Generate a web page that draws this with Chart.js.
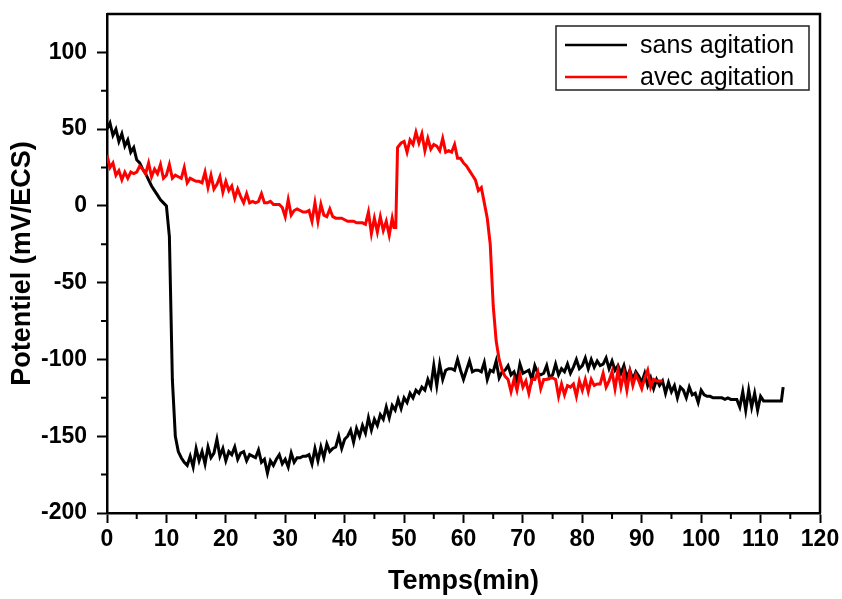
<!DOCTYPE html>
<html>
<head>
<meta charset="utf-8">
<script src="https://cdn.jsdelivr.net/npm/chart.js@4.4.1/dist/chart.umd.min.js"></script>
<style>
  html, body { margin: 0; padding: 0; background: #fff; }
  #chart { display: block; }
</style>
</head>
<body>
<canvas id="chart" width="842" height="599"></canvas>
<script>
// potential (mV/ECS) vs time (min)
const sansAgitation = [
  [0, 50], [0.5, 54], [1, 46], [1.5, 50], [2, 42], [2.5, 47], [3, 39], [3.5, 43], [4, 35], [4.5, 38],
  [5, 30], [5.5, 28], [6, 24], [6.5, 21], [7, 17], [7.5, 13], [8, 10], [8.5, 7], [9, 4], [9.5, 2],
  [10, 0], [10.5, -20], [11, -113], [11.5, -150], [12, -160], [12.5, -164], [13, -167], [13.5, -169],
  [14, -163], [14.5, -170], [15, -158], [15.5, -166], [16, -160], [16.5, -168], [17, -157], [17.5, -164],
  [18, -161], [18.5, -152], [19, -163], [19.5, -158], [20, -166], [20.5, -160], [21, -162], [21.5, -157],
  [22, -165], [22.5, -161], [23, -160], [23.5, -166], [24, -162], [24.5, -163], [25, -164], [25.5, -159],
  [26, -167], [26.5, -165], [27, -174], [27.5, -166], [28, -169], [28.5, -165], [29, -162], [29.5, -168],
  [30, -165], [30.5, -170], [31, -161], [31.5, -167], [32, -164], [32.5, -164], [33, -163], [33.5, -163],
  [34, -162], [34.5, -168], [35, -158], [35.5, -166], [36, -157], [36.5, -164], [37, -155], [37.5, -160],
  [38, -158], [38.5, -157], [39, -150], [39.5, -158], [40, -152], [40.5, -150], [41, -146], [41.5, -154],
  [42, -145], [42.5, -150], [43, -143], [43.5, -148], [44, -138], [44.5, -146], [45, -139], [45.5, -143],
  [46, -136], [46.5, -139], [47, -131], [47.5, -138], [48, -130], [48.5, -133], [49, -126], [49.5, -132],
  [50, -125], [50.5, -128], [51, -122], [51.5, -125], [52, -120], [52.5, -122], [53, -118], [53.5, -120],
  [54, -113], [54.5, -118], [55, -104], [55.5, -117], [56, -103], [56.5, -113], [57, -107], [57.5, -106],
  [58, -106], [58.5, -107], [59, -100], [59.5, -107], [60, -113], [60.5, -107], [61, -101], [61.5, -108],
  [62, -107], [62.5, -107], [63, -108], [63.5, -102], [64, -113], [64.5, -107], [65, -108], [65.5, -101],
  [66, -112], [66.5, -108], [67, -107], [67.5, -104], [68, -110], [68.5, -108], [69, -114], [69.5, -103],
  [70, -109], [70.5, -108], [71, -107], [71.5, -113], [72, -104], [72.5, -109], [73, -110], [73.5, -109],
  [74, -104], [74.5, -112], [75, -110], [75.5, -103], [76, -110], [76.5, -106], [77, -108], [77.5, -103],
  [78, -109], [78.5, -105], [79, -100], [79.5, -106], [80, -104], [80.5, -99], [81, -106], [81.5, -100],
  [82, -105], [82.5, -101], [83, -104], [83.5, -103], [84, -99], [84.5, -106], [85, -101], [85.5, -107],
  [86, -104], [86.5, -109], [87, -104], [87.5, -112], [88, -107], [88.5, -113], [89, -108], [89.5, -111],
  [90, -115], [90.5, -109], [91, -117], [91.5, -112], [92, -119], [92.5, -113], [93, -117], [93.5, -114],
  [94, -122], [94.5, -115], [95, -121], [95.5, -117], [96, -125], [96.5, -118], [97, -120], [97.5, -125],
  [98, -118], [98.5, -123], [99, -122], [99.5, -128], [100, -120], [100.5, -123], [101, -124], [101.5, -124],
  [102, -125], [102.5, -125], [103, -125], [103.5, -125], [104, -126], [104.5, -125], [105, -126], [105.5, -126],
  [106, -126], [106.5, -131], [107, -121], [107.5, -133], [108, -120], [108.5, -131], [109, -122], [109.5, -133],
  [110, -124], [110.5, -127], [111, -127], [111.5, -127], [112, -127], [112.5, -127], [113, -127], [113.5, -127],
  [113.8, -118]
];

const avecAgitation = [
  [0, 33], [0.5, 25], [1, 28], [1.5, 20], [2, 23], [2.5, 17], [3, 22], [3.5, 18], [4, 22], [4.5, 21],
  [5, 22], [5.5, 26], [6, 24], [6.5, 21], [7, 28], [7.5, 19], [8, 24], [8.5, 21], [9, 27], [9.5, 18],
  [10, 20], [10.5, 27], [11, 18], [11.5, 20], [12, 19], [12.5, 18], [13, 25], [13.5, 15], [14, 18], [14.5, 17],
  [15, 16], [15.5, 16], [16, 15], [16.5, 22], [17, 12], [17.5, 20], [18, 11], [18.5, 14], [19, 19], [19.5, 9],
  [20, 16], [20.5, 10], [21, 13], [21.5, 5], [22, 11], [22.5, 6], [23, 2], [23.5, 8], [24, 2], [24.5, 3],
  [25, 2], [25.5, 3], [26, 8], [26.5, 2], [27, 2], [27.5, 3], [28, 1], [28.5, 1], [29, 1], [29.5, -1],
  [30, -7], [30.5, 4], [31, -6], [31.5, -3], [32, -2], [32.5, -3], [33, -4], [33.5, -4], [34, -3], [34.5, -10],
  [35, 2], [35.5, -10], [36, 1], [36.5, -6], [37, -7], [37.5, -2], [38, -7], [38.5, -8], [39, -8], [39.5, -8],
  [40, -9], [40.5, -10], [41, -10], [41.5, -10], [42, -11], [42.5, -11], [43, -11], [43.5, -12], [44, -4], [44.5, -18],
  [45, -8], [45.5, -17], [46, -7], [46.5, -16], [47, -10], [47.5, -19], [48, -8], [48.3, -14], [48.6, -14], [48.9, 38],
  [49.5, 41], [50, 42], [50.5, 35], [51, 43], [51.5, 40], [52, 48], [52.5, 41], [53, 47], [53.5, 36], [54, 44],
  [54.5, 37], [55, 40], [55.5, 39], [56, 36], [56.5, 44], [57, 35], [57.5, 36], [58, 35], [58.5, 40], [59, 31],
  [59.5, 31], [60, 28], [60.5, 26], [61, 23], [61.5, 20], [62, 17], [62.5, 10], [63, 12], [63.5, 2], [64, -8],
  [64.5, -25], [65, -65], [65.5, -88], [66, -100], [66.5, -107], [67, -111], [67.5, -113], [68, -121], [68.5, -113], [69, -120],
  [69.5, -110], [70, -118], [70.5, -114], [71, -122], [71.5, -113], [72, -113], [72.5, -108], [73, -119], [73.5, -113], [74, -113],
  [74.5, -112], [75, -112], [75.5, -113], [76, -124], [76.5, -116], [77, -123], [77.5, -117], [78, -118], [78.5, -116], [79, -124],
  [79.5, -114], [80, -120], [80.5, -113], [81, -121], [81.5, -113], [82, -117], [82.5, -116], [83, -116], [83.5, -109], [84, -118],
  [84.5, -114], [85, -108], [85.5, -119], [86, -107], [86.5, -118], [87, -109], [87.5, -120], [88, -108], [88.5, -117], [89, -110],
  [89.5, -114], [90, -119], [90.5, -112], [91, -107], [91.5, -118], [92, -113], [92.5, -114], [93, -114], [93.5, -114]
];

const xTicks = [0, 10, 20, 30, 40, 50, 60, 70, 80, 90, 100, 110, 120];
const yTicks = [-200, -150, -100, -50, 0, 50, 100];
const xMinor = [5, 15, 25, 35, 45, 55, 65, 75, 85, 95, 105, 115];
const yMinor = [-175, -125, -75, -25, 25, 75];

const FONT = "'Liberation Sans', Arial, sans-serif";
Chart.defaults.font.family = FONT;
Chart.defaults.color = '#000';

const toPoints = (pairs) => pairs.map(([x, y]) => ({ x, y }));

// top/right frame, minor ticks and the boxed legend (Origin style)
const framePlugin = {
  id: 'frame',
  afterDraw(chart) {
    const { ctx, chartArea: a, scales } = chart;
    ctx.save();
    ctx.strokeStyle = '#000';
    ctx.lineWidth = 2.5;
    ctx.beginPath();
    ctx.moveTo(a.left, a.top);
    ctx.lineTo(a.right, a.top);
    ctx.lineTo(a.right, a.bottom);
    ctx.stroke();

    ctx.lineWidth = 2;
    ctx.beginPath();
    xMinor.forEach((v) => {
      const px = scales.x.getPixelForValue(v);
      ctx.moveTo(px, a.bottom);
      ctx.lineTo(px, a.bottom + 6);
    });
    yMinor.forEach((v) => {
      const py = scales.y.getPixelForValue(v);
      ctx.moveTo(a.left, py);
      ctx.lineTo(a.left - 6, py);
    });
    ctx.stroke();

    // legend
    ctx.lineWidth = 1.5;
    ctx.strokeStyle = '#222';
    ctx.strokeRect(556, 26, 253, 64);
    ctx.font = '25px ' + FONT;
    ctx.textBaseline = 'middle';
    ctx.fillStyle = '#000';
    chart.data.datasets
      .slice()
      .sort((p, q) => p.legendIndex - q.legendIndex)
      .forEach((ds, i) => {
        const y = 45 + i * 32;
        ctx.strokeStyle = ds.borderColor;
        ctx.lineWidth = 2.5;
        ctx.beginPath();
        ctx.moveTo(565, y);
        ctx.lineTo(627, y);
        ctx.stroke();
        ctx.fillText(ds.label, 640, y + 1);
      });
    ctx.restore();
  }
};

new Chart(document.getElementById('chart'), {
  type: 'line',
  data: {
    datasets: [
      {
        label: 'avec agitation',
        legendIndex: 1,
        order: 0,
        data: toPoints(avecAgitation),
        borderColor: '#ff0000',
        borderWidth: 3,
        pointRadius: 0,
        tension: 0
      },
      {
        label: 'sans agitation',
        legendIndex: 0,
        order: 1,
        data: toPoints(sansAgitation),
        borderColor: '#000000',
        borderWidth: 3,
        pointRadius: 0,
        tension: 0
      }
    ]
  },
  options: {
    responsive: false,
    animation: false,
    layout: { padding: { top: 14, right: 22, left: 0, bottom: 0 } },
    plugins: { legend: { display: false }, tooltip: { enabled: false } },
    scales: {
      x: {
        type: 'linear',
        min: 0,
        max: 120,
        afterBuildTicks: (s) => { s.ticks = xTicks.map((value) => ({ value })); },
        afterFit: (s) => { s.height = 86; s.paddingLeft = 0; s.paddingRight = 0; },
        border: { display: true, color: '#000', width: 2.5 },
        grid: { drawOnChartArea: false, drawTicks: true, tickLength: 10, tickWidth: 2, tickColor: '#000' },
        ticks: { padding: 3, maxRotation: 0, font: { size: 23, weight: 'bold' } },
        title: {
          display: true,
          text: 'Temps(min)',
          padding: { top: 1, bottom: 1 },
          font: { size: 27, weight: 'bold' }
        }
      },
      y: {
        type: 'linear',
        min: -200,
        max: 125,
        afterBuildTicks: (s) => { s.ticks = yTicks.map((value) => ({ value })); },
        afterFit: (s) => { s.width = 107; s.paddingTop = 0; s.paddingBottom = 0; },
        border: { display: true, color: '#000', width: 2.5 },
        grid: { drawOnChartArea: false, drawTicks: true, tickLength: 10, tickWidth: 2, tickColor: '#000' },
        ticks: { padding: 10, font: { size: 23, weight: 'bold' } },
        title: {
          display: true,
          text: 'Potentiel (mV/ECS)',
          padding: { top: 6, bottom: 6 },
          font: { size: 27, weight: 'bold' }
        }
      }
    }
  },
  plugins: [framePlugin]
});
</script>
</body>
</html>
